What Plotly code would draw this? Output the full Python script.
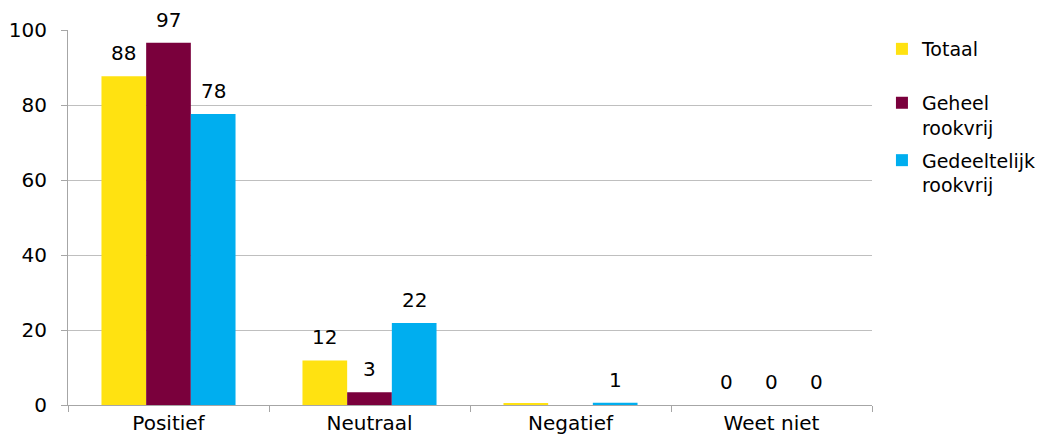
import plotly.graph_objects as go

categories = ["Positief", "Neutraal", "Negatief", "Weet niet"]
series_names = ["Totaal", "Geheel<br>rookvrij", "Gedeeltelijk<br>rookvrij"]
totaal = [87.7, 11.9, 0.3, 0]
geheel = [96.6, 3.4, 0, 0]
gedeeltelijk = [77.6, 21.9, 0.6, 0]
totaal_labels = ["88", "12", "", "0"]
geheel_labels = ["97", "3", "", "0"]
gedeeltelijk_labels = ["78", "22", "1", "0"]
colors = ["#FFE211", "#7A003C", "#00AEEF"]

font = "DejaVu Sans, Verdana, sans-serif"
bargap = 0.333
bar_w = (1 - bargap) / 3

fig = go.Figure()
all_vals = [totaal, geheel, gedeeltelijk]
all_labels = [totaal_labels, geheel_labels, gedeeltelijk_labels]
legends = ["legend", "legend2", "legend2"]
for i, (name, vals, labels, col) in enumerate(zip(series_names, all_vals, all_labels, colors)):
    fig.add_trace(go.Bar(
        x=categories, y=vals, name=name, marker_color=col,
        marker_line_width=0, legend=legends[i], legendgroup=name,
    ))
    # value labels placed above each bar
    for j, (v, lab) in enumerate(zip(vals, labels)):
        if lab:
            fig.add_annotation(x=j + (i - 1) * bar_w, y=v, text=lab,
                               showarrow=False, yanchor="bottom", yshift=9,
                               font=dict(size=20, color="#000000", family=font))

leg_style = dict(xref="container", yref="container", xanchor="left", yanchor="top",
                 font=dict(size=19), tracegroupgap=5, itemwidth=30, valign="top",
                 bgcolor="rgba(0,0,0,0)")

fig.update_layout(
    width=1042, height=440,
    barmode="group", bargap=bargap, bargroupgap=0,
    plot_bgcolor="white", paper_bgcolor="white",
    margin=dict(l=68, r=170, t=30, b=35, autoexpand=False),
    font=dict(family=font, size=20, color="#000000"),
    showlegend=True,
    legend=dict(x=0.8464, y=0.9318, **leg_style),
    legend2=dict(x=0.8464, y=0.8093, **leg_style),
)
fig.update_yaxes(range=[0, 100], dtick=20, showgrid=True, gridcolor="#BFBFBF",
                 gridwidth=1, showline=True, linecolor="#A6A6A6", linewidth=1,
                 ticks="outside", ticklen=6, tickcolor="#A6A6A6",
                 zeroline=False, tickfont=dict(size=20), automargin=False,
                 ticklabelstandoff=10)
fig.update_xaxes(showline=True, linecolor="#A6A6A6", linewidth=1,
                 ticks="outside", ticklen=6, tickcolor="#A6A6A6",
                 tickson="boundaries", tickfont=dict(size=20), automargin=False)

# remove the browser's default body margin so the figure sits at the corner
fig.write_html("out.html", config={"displayModeBar": False},
               post_script="document.body.style.margin='0px';")
